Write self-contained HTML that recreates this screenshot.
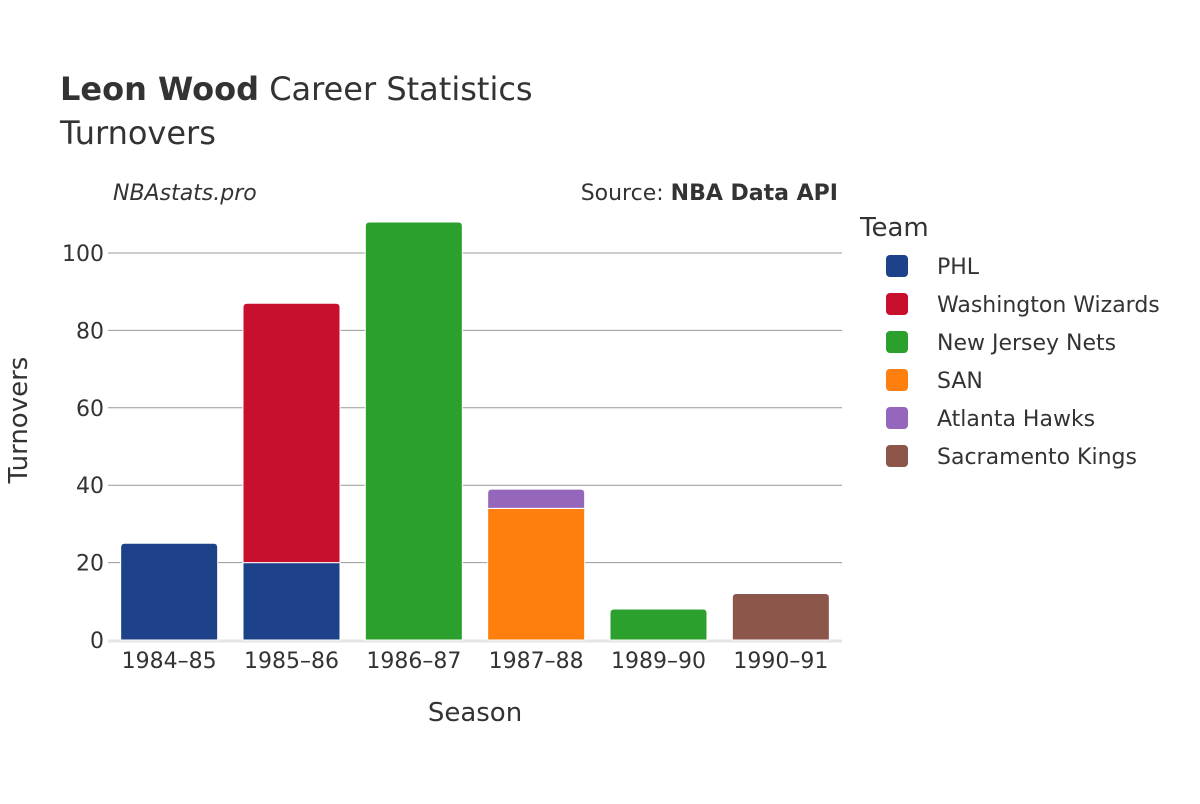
<!DOCTYPE html>
<html><head><meta charset="utf-8"><style>
body{margin:0;background:#fff;font-family:"DejaVu Sans","Liberation Sans",sans-serif;}
svg text{font-family:"DejaVu Sans","Liberation Sans",sans-serif;fill:#333;}
</style></head><body>
<svg id="chart" width="1200" height="800" xmlns="http://www.w3.org/2000/svg">
<text x="60" y="100" font-size="32"><tspan font-weight="bold">Leon Wood</tspan> Career Statistics</text>
<text x="60" y="144" font-size="32">Turnovers</text>
<text x="113" y="200" font-size="22" font-style="italic">NBAstats.pro</text>
<text x="838" y="200" font-size="22" text-anchor="end">Source: <tspan font-weight="bold">NBA Data API</tspan></text>
<g id="grid"></g>
<g id="bars"></g>
<g id="xticks"></g>
<text x="475" y="721" font-size="26" text-anchor="middle">Season</text>
<text x="0" y="0" font-size="26" text-anchor="middle" transform="translate(27,420) rotate(-90)">Turnovers</text>
<text x="860" y="236" font-size="26">Team</text>
<g id="legend"></g>
</svg>
<script>
const seasons=["1984–85","1985–86","1986–87","1987–88","1989–90","1990–91"];
const teams=["PHL","Washington Wizards","New Jersey Nets","SAN","Atlanta Hawks","Sacramento Kings"];
const colors=["#1d428a","#c8102e","#2ca02c","#ff7f0e","#9467bd","#8c564b"];
const phl=[25,20,0,0,0,0];
const was=[0,67,0,0,0,0];
const njn=[0,0,108,0,8,0];
const san=[0,0,0,34,0,0];
const atl=[0,0,0,5,0,0];
const sac=[0,0,0,0,0,12];
const yTicks=[0,20,40,60,80,100];
const series=[phl,was,njn,san,atl,sac];
const NS="http://www.w3.org/2000/svg";
const x0=108,x1=842,yb=640,yt=253;
const y=v=>yb-(yt-yb)/-100*v;
const band=(x1-x0)/seasons.length,bw=97;
const xc=i=>x0+band*(i+0.5);
function mk(t,a,p){const e=document.createElementNS(NS,t);for(const k in a)e.setAttribute(k,a[k]);p.appendChild(e);return e;}
const grid=document.getElementById('grid');
yTicks.forEach(v=>{
 if(v>0){const l=mk('line',{x1:x0,x2:x1,y1:y(v),y2:y(v),stroke:'#999','stroke-width':1},grid);
 
 }
 const t=mk('text',{x:x0-4,y:y(v)+8,'font-size':22,'text-anchor':'end'},grid);t.textContent=v;
 
 
});
const base=mk('line',{x1:x0,x2:x1,y1:yb+1,y2:yb+1,stroke:'#e5e5e5','stroke-width':3},grid);


const bars=document.getElementById('bars');
seasons.forEach((s,i)=>{
 let cum=0;
 const tops=[];series.forEach((sr,k)=>{if(sr[i]>0)tops.push(k);});
 const last=tops[tops.length-1];
 series.forEach((sr,k)=>{
  const v=sr[i];if(!v)return;
  const ya=y(cum+v),yb2=y(cum);const xl=xc(i)-bw/2;const r=k===last?4:0;
  const d=`M${xl},${yb2}V${ya+r}Q${xl},${ya} ${xl+r},${ya}H${xl+bw-r}Q${xl+bw},${ya} ${xl+bw},${ya+r}V${yb2}Z`;
  const p=mk('path',{d:d,fill:colors[k],stroke:'#fff','stroke-width':1},bars);
  
  
  cum+=v;
 });
 const t=mk('text',{x:xc(i),y:668,'font-size':22,'text-anchor':'middle'},document.getElementById('xticks'));t.textContent=s;
 
 
});
const lg=document.getElementById('legend');
teams.forEach((tm,k)=>{
 const g=mk('g',{},lg);
 
 
 const yy=266+k*38;
 mk('rect',{x:886,y:yy-11,width:22,height:22,rx:4,fill:colors[k]},g);
 const t=mk('text',{x:937,y:yy+8,'font-size':22},g);t.textContent=tm;
});
</script>
</body></html>
